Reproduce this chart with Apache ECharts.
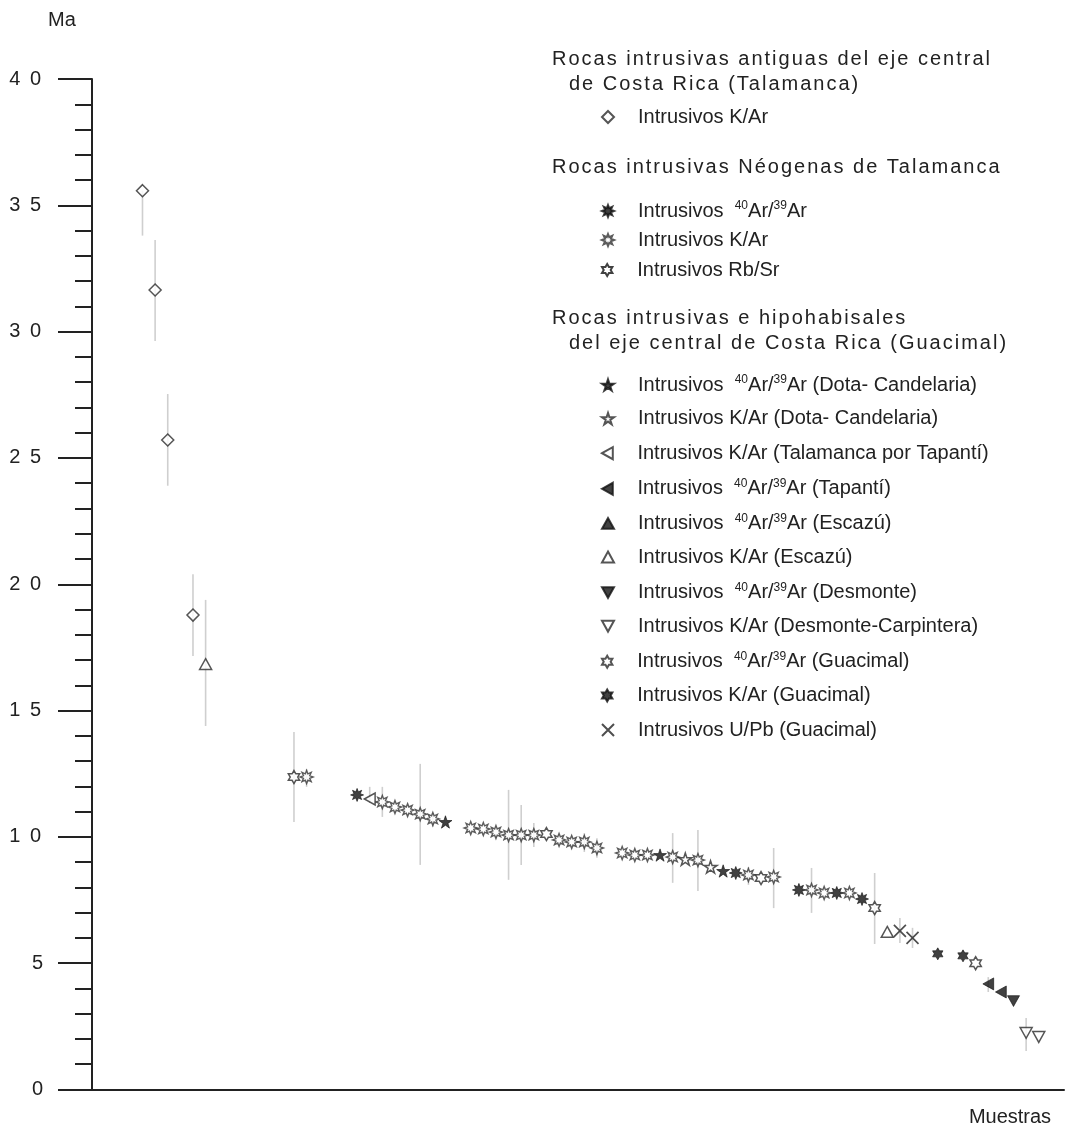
<!DOCTYPE html>
<html>
<head>
<meta charset="utf-8">
<script src="https://cdn.jsdelivr.net/npm/echarts@6/dist/echarts.min.js"></script>
<style>html,body{margin:0;padding:0;background:#fff}#c{width:1071px;height:1133px}</style>
</head>
<body>
<div id="c"></div>
<script>
// ---------- DATA (sample index on x, age in Ma on y) ----------
const yTicks = [0, 5, 10, 15, 20, 25, 30, 35, 40];
const sampleMax = 77;

const antiguasKAr_x = [4, 5, 6, 8];
const antiguasKAr_y = [35.58, 31.65, 25.71, 18.78];

const neoArAr_x = [21, 51, 56, 59, 61];
const neoArAr_y = [11.66, 8.57, 7.90, 7.78, 7.54];

const neoKAr_x = [17, 23, 24, 25, 26, 27, 30, 31, 32, 33, 34, 35, 37, 38, 39, 40, 42, 43, 44, 46, 48, 52, 54, 57, 58, 60];
const neoKAr_y = [12.37, 11.38, 11.18, 11.06, 10.90, 10.71, 10.35, 10.31, 10.19, 10.07, 10.07, 10.07, 9.88, 9.80, 9.80, 9.56, 9.36, 9.28, 9.28, 9.20, 9.08, 8.49, 8.41, 7.90, 7.78, 7.78];

const neoRbSr_x = [];
const neoRbSr_y = [];

const dotaArAr_x = [28, 45, 50];
const dotaArAr_y = [10.59, 9.28, 8.65];

const dotaKAr_x = [47, 49];
const dotaKAr_y = [9.12, 8.81];

const tapantiKAr_x = [22];
const tapantiKAr_y = [11.50];

const tapantiArAr_x = [71, 72];
const tapantiArAr_y = [4.18, 3.86];

const escazuArAr_x = [];
const escazuArAr_y = [];

const escazuKAr_x = [9, 63];
const escazuKAr_y = [16.84, 6.24];

const desmonteArAr_x = [73];
const desmonteArAr_y = [3.50];

const desmonteKAr_x = [74, 75];
const desmonteKAr_y = [2.24, 2.08];

const guacArAr_x = [16, 36, 53, 62, 70];
const guacArAr_y = [12.37, 10.11, 8.37, 7.18, 5.00];

const guacKAr_x = [67, 69];
const guacKAr_y = [5.37, 5.29];

const guacUPb_x = [64, 65];
const guacUPb_y = [6.28, 6.00];

// error bars: sample index, lower age, upper age
const err_x    = [4, 5, 6, 8, 9, 16, 17, 22, 23, 26, 27, 33, 34, 35, 39, 40, 46, 48, 52, 54, 57, 62, 64, 65, 71, 74];
const err_low  = [33.80, 29.63, 23.90, 17.16, 14.39, 10.59, 11.98, 11.34, 10.79, 8.89, 10.40, 8.30, 8.89, 9.60, 9.40, 9.17, 8.18, 7.86, 8.10, 7.18, 6.99, 5.76, 5.80, 5.60, 3.86, 1.52];
const err_high = [35.58, 33.63, 27.53, 20.40, 19.38, 14.15, 12.69, 11.98, 11.98, 12.89, 10.95, 11.86, 11.26, 10.55, 10.15, 9.95, 10.15, 10.27, 8.81, 9.56, 8.77, 8.57, 6.79, 6.40, 4.45, 2.83];

// ---------- symbols ----------
const P_STAR5 = 'path://M50,0L61.17,34.63L97.55,34.55L68.07,55.87L79.39,90.45L50,69L20.61,90.45L31.93,55.87L2.45,34.55L38.83,34.63Z';
const P_HEX = 'path://M50,0L64.43,25L93.3,25L78.87,50L93.3,75L64.43,75L50,100L35.57,75L6.7,75L21.13,50L6.7,25L35.57,25Z';
const P_OCT = 'path://M50,0L59.95,25.98L85.36,14.64L74.02,40.05L100,50L74.02,59.95L85.36,85.36L59.95,74.02L50,100L40.05,74.02L14.64,85.36L25.98,59.95L0,50L25.98,40.05L14.64,14.64L40.05,25.98Z';
const P_X = 'path://M0,0L100,100M100,0L0,100';
const P_DIAM = 'path://M50,0L100,50L50,100L0,50Z';
const P_UP = 'path://M50,0L100,90L0,90Z';
const P_DOWN = 'path://M0,0L100,0L50,90Z';
const P_LEFT = 'path://M0,50L90,0L90,100Z';

const FONT = '"Liberation Sans", Arial, sans-serif';
const INK = '#222';
const openStyle = {color: '#fff', borderColor: '#2a2a2a', borderWidth: 1.5};
const fillStyle = {color: '#111', borderColor: '#111', borderWidth: 0.8};

const groups = [
  {name: 'Intrusivos K/Ar', x: antiguasKAr_x, y: antiguasKAr_y, symbol: P_DIAM, size: 12, style: openStyle, ly: 116},
  {name: 'Intrusivos 40Ar/39Ar', x: neoArAr_x, y: neoArAr_y, symbol: P_OCT, size: 13, style: fillStyle, ly: 209},
  {name: 'Intrusivos K/Ar ', x: neoKAr_x, y: neoKAr_y, symbol: P_OCT, size: 13, style: {color: '#fff', borderColor: '#333', borderWidth: 1.4}, ly: 239},
  {name: 'Intrusivos Rb/Sr', x: neoRbSr_x, y: neoRbSr_y, symbol: P_HEX, size: 12, style: {color: '#fff', borderColor: '#111', borderWidth: 2.8}, ly: 269},
  {name: 'Intrusivos 40Ar/39Ar (Dota- Candelaria)', x: dotaArAr_x, y: dotaArAr_y, symbol: P_STAR5, size: 13, style: fillStyle, ly: 383},
  {name: 'Intrusivos K/Ar (Dota- Candelaria)', x: dotaKAr_x, y: dotaKAr_y, symbol: P_STAR5, size: 13, style: openStyle, ly: 417.6},
  {name: 'Intrusivos K/Ar (Talamanca por Tapantí)', x: tapantiKAr_x, y: tapantiKAr_y, symbol: P_LEFT, size: 12, style: openStyle, ly: 452.2},
  {name: 'Intrusivos 40Ar/39Ar (Tapantí)', x: tapantiArAr_x, y: tapantiArAr_y, symbol: P_LEFT, size: 12, style: fillStyle, ly: 486.8},
  {name: 'Intrusivos 40Ar/39Ar (Escazú)', x: escazuArAr_x, y: escazuArAr_y, symbol: P_UP, size: 12, style: fillStyle, ly: 521.4},
  {name: 'Intrusivos K/Ar (Escazú)', x: escazuKAr_x, y: escazuKAr_y, symbol: P_UP, size: 12, style: openStyle, ly: 556},
  {name: 'Intrusivos 40Ar/39Ar (Desmonte)', x: desmonteArAr_x, y: desmonteArAr_y, symbol: P_DOWN, size: 12, style: fillStyle, ly: 590.6},
  {name: 'Intrusivos K/Ar (Desmonte-Carpintera)', x: desmonteKAr_x, y: desmonteKAr_y, symbol: P_DOWN, size: 12, style: openStyle, ly: 625.2},
  {name: 'Intrusivos 40Ar/39Ar (Guacimal)', x: guacArAr_x, y: guacArAr_y, symbol: P_HEX, size: 13, style: openStyle, ly: 659.8},
  {name: 'Intrusivos K/Ar (Guacimal)', x: guacKAr_x, y: guacKAr_y, symbol: P_HEX, size: 12, style: fillStyle, ly: 694.4},
  {name: 'Intrusivos U/Pb (Guacimal)', x: guacUPb_x, y: guacUPb_y, symbol: P_X, size: 12, style: {color: 'rgba(0,0,0,0)', borderColor: '#222', borderWidth: 1.7}, ly: 729}
];

const headers = [
  {text: 'Rocas intrusivas antiguas del eje central', x: 552, y: 59},
  {text: 'de Costa Rica (Talamanca)', x: 569, y: 84},
  {text: 'Rocas intrusivas Néogenas de Talamanca', x: 552, y: 167},
  {text: 'Rocas intrusivas e hipohabisales', x: 552, y: 318},
  {text: 'del eje central de Costa Rica (Guacimal)', x: 569, y: 343}
];

const tickText = v => String(v).split('').join(' ');

// Wider character tracking for the group headings and the y tick labels only (as in the original figure)
(function () {
  const tracked = new Map();
  headers.forEach(h => tracked.set(h.text, '2px'));
  yTicks.forEach(v => { if (String(v).length > 1) tracked.set(tickText(v), '2px'); });
  const proto = CanvasRenderingContext2D.prototype;
  if (!('letterSpacing' in proto)) return;
  const orig = proto.fillText;
  proto.fillText = function (t) {
    const sp = tracked.get(t);
    if (this.letterSpacing !== '0px') { const f = this.font; this.letterSpacing = '0px'; this.font = f; }
    if (!sp) return orig.apply(this, arguments);
    const f = this.font;
    this.letterSpacing = sp;
    this.font = f;
    const r = orig.apply(this, arguments);
    this.letterSpacing = '0px';
    this.font = f;
    return r;
  };
})();

function richName(name) {
  const parts = name.trim().split('40Ar/39Ar');
  if (parts.length === 1) return '{g| }{t|' + name.trim() + '}';
  return '{g| }{t|' + parts[0] + ' }{s|40}{t|Ar/}{s|39}{t|Ar' + parts[1] + '}';
}

const chart = echarts.init(document.getElementById('c'), null, {renderer: 'canvas'});

const series = [{
  type: 'custom',
  name: 'err',
  silent: true,
  z: 1,
  data: err_x.map((x, i) => [x, err_low[i], err_high[i]]),
  encode: {x: 0, y: [1, 2]},
  renderItem: function (params, api) {
    const a = api.coord([api.value(0), api.value(1)]);
    const b = api.coord([api.value(0), api.value(2)]);
    return {type: 'line', shape: {x1: a[0], y1: a[1], x2: b[0], y2: b[1]}, style: {stroke: '#cfcfcf', lineWidth: 1.6}};
  }
}];
groups.forEach(g => {
  series.push({
    type: 'scatter',
    name: g.name,
    symbol: g.symbol,
    symbolSize: g.size,
    symbolKeepAspect: true,
    itemStyle: g.style,
    z: 3,
    data: g.x.map((x, i) => [x, g.y[i]])
  });
});

const legends = groups.map(g => ({
  data: [g.name],
  left: 601,
  top: g.ly - 9,
  padding: 0,
  itemWidth: 12,
  itemHeight: 12,
  selectedMode: false,
  formatter: richName,
  textStyle: {
    fontFamily: FONT, fontSize: 20, color: INK,
    rich: {
      g: {width: 19, lineHeight: 22, fontSize: 20},
      t: {fontFamily: FONT, fontSize: 20, color: INK, lineHeight: 22},
      s: {fontFamily: FONT, fontSize: 12, color: INK, lineHeight: 12, verticalAlign: 'top'}
    }
  }
}));

const graphics = headers.map(h => ({
  type: 'text', x: h.x, y: h.y,
  style: {text: h.text, font: '20px ' + FONT, fill: INK, verticalAlign: 'middle', align: 'left'}
}));
graphics.push({type: 'text', x: 62, y: 20, style: {text: 'Ma', font: '20px ' + FONT, fill: INK, verticalAlign: 'middle', align: 'center'}});
graphics.push({type: 'text', x: 1010, y: 1117, style: {text: 'Muestras', font: '20px ' + FONT, fill: INK, verticalAlign: 'middle', align: 'center'}});

chart.setOption({
  animation: false,
  backgroundColor: '#fff',
  grid: {left: 92, right: 7, top: 79, bottom: 43.5, containLabel: false},
  xAxis: {
    type: 'value', min: 0, max: sampleMax,
    axisLine: {show: true, lineStyle: {color: INK, width: 2}},
    axisTick: {show: false}, axisLabel: {show: false}, splitLine: {show: false}
  },
  yAxis: {
    type: 'value', min: yTicks[0], max: yTicks[yTicks.length - 1], interval: 5,
    axisLine: {show: true, lineStyle: {color: INK, width: 2}},
    axisTick: {show: true, length: 34, lineStyle: {color: INK, width: 2}},
    minorTick: {show: true, splitNumber: 5, length: 17, lineStyle: {color: INK, width: 2}},
    splitLine: {show: false},
    axisLabel: {
      margin: 49, fontFamily: FONT, fontSize: 20, color: INK,
      formatter: tickText
    }
  },
  legend: legends,
  graphic: graphics,
  series: series
});
</script>
</body>
</html>
